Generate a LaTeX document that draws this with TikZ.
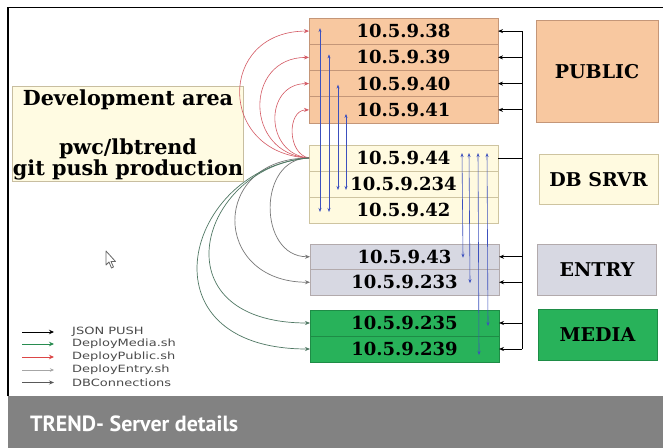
\documentclass[tikz,border=0pt]{standalone}
\usepackage{fontspec}
\setmainfont{DejaVu Serif}
\newfontfamily\legendfont{DejaVu Sans}
\newfontfamily\titlefont{PT Sans}
\usetikzlibrary{arrows.meta}
\definecolor{pubfill}{RGB}{248,200,160}
\definecolor{pubdraw}{RGB}{196,150,120}
\definecolor{dbfill}{RGB}{255,250,224}
\definecolor{dbdraw}{RGB}{206,196,160}
\definecolor{entfill}{RGB}{215,216,226}
\definecolor{entdraw}{RGB}{178,170,172}
\definecolor{medfill}{RGB}{40,178,90}
\definecolor{meddraw}{RGB}{30,140,70}
\definecolor{devfill}{RGB}{255,251,226}
\definecolor{devdraw}{RGB}{200,190,160}
\definecolor{redc}{RGB}{212,90,100}
\definecolor{bluec}{RGB}{60,80,190}
\definecolor{entc}{RGB}{120,120,120}
\definecolor{medc}{RGB}{80,120,100}
\definecolor{band}{RGB}{130,130,130}
\definecolor{legtext}{RGB}{75,75,75}
\tikzset{
  ipbox/.style={draw=#1, line width=0.8bp, minimum width=189bp, inner sep=0pt, outer sep=0pt,
    font=\fontsize{18bp}{20bp}\selectfont\bfseries},
  grpbox/.style={draw=#1, line width=1bp, inner sep=0pt, outer sep=0pt,
    font=\fontsize{19bp}{21bp}\selectfont\bfseries},
  pubarrow/.style={draw=redc, line width=0.6bp, -{Stealth[length=5bp,width=4bp]}},
  entarrow/.style={draw=entc, line width=0.7bp, -{Stealth[length=5bp,width=4bp]}},
  medarrow/.style={draw=medc, line width=0.7bp, -{Stealth[length=5bp,width=4bp]}},
  dbarrow/.style={draw=bluec, line width=0.6bp, {Stealth[length=4bp,width=3bp]}-{Stealth[length=4bp,width=3bp]}},
  jsonarrow/.style={draw=black, line width=0.8bp, -{Stealth[length=5bp,width=4bp]}},
  legtxt/.style={anchor=west, inner sep=0pt, text=legtext, font=\legendfont\fontsize{10bp}{11bp}\selectfont},
}
\begin{document}
\begin{tikzpicture}[x=1bp,y=-1bp]
\useasboundingbox (0,0) rectangle (663,448);
\fill[white] (0,0) rectangle (663,448);
% frame and band
\draw[black,line width=1.2bp] (8,396) -- (8,7.5) -- (663,7.5);
\fill[band] (8,396) rectangle (663,448);
\node[anchor=west, text=white, inner sep=0pt, font=\titlefont\bfseries\fontsize{22bp}{24bp}\selectfont] (title) at (30,424) {TREND- Server details};

% development area
\node[draw=devdraw, fill=devfill, line width=1bp, minimum width=230bp, minimum height=95bp, inner sep=0pt,
  align=center, font=\fontsize{20.7bp}{20bp}\selectfont\bfseries] (dev) at (128,134.5)
  {Development area\\[28bp]pwc/lbtrend\\git push production};

% public boxes
\node[ipbox=pubdraw, fill=pubfill, minimum height=26.25bp] (p38) at (403.5,31.1) {10.5.9.38};
\node[ipbox=pubdraw, fill=pubfill, minimum height=26.25bp] (p39) at (403.5,57.4) {10.5.9.39};
\node[ipbox=pubdraw, fill=pubfill, minimum height=26.25bp] (p40) at (403.5,83.6) {10.5.9.40};
\node[ipbox=pubdraw, fill=pubfill, minimum height=26.25bp] (p41) at (403.5,109.9) {10.5.9.41};
% db boxes
\node[ipbox=dbdraw, fill=dbfill, minimum height=26bp] (d44) at (403.5,158) {10.5.9.44};
\node[ipbox=dbdraw, fill=dbfill, minimum height=26bp] (d234) at (403.5,184) {10.5.9.234};
\node[ipbox=dbdraw, fill=dbfill, minimum height=26bp] (d42) at (403.5,210) {10.5.9.42};
% entry boxes
\node[ipbox=entdraw, fill=entfill, minimum height=25.5bp] (e43) at (404.5,256.75) {10.5.9.43};
\node[ipbox=entdraw, fill=entfill, minimum height=25.5bp] (e233) at (404.5,282.25) {10.5.9.233};
% media boxes
\node[ipbox=meddraw, fill=medfill, minimum height=26bp] (m235) at (404.5,323) {10.5.9.235};
\node[ipbox=meddraw, fill=medfill, minimum height=26bp] (m239) at (404.5,349) {10.5.9.239};

% group labels
\node[grpbox=pubdraw, fill=pubfill, minimum width=122bp, minimum height=102bp] (lpub) at (597,71.5) {PUBLIC};
\node[grpbox=dbdraw, fill=dbfill, minimum width=119bp, minimum height=50bp] (ldb) at (598.5,180) {DB SRVR};
\node[grpbox=entdraw, fill=entfill, minimum width=119bp, minimum height=50bp] (lent) at (597,270) {ENTRY};
\node[grpbox=meddraw, fill=medfill, minimum width=119bp, minimum height=50bp] (lmed) at (597.5,335) {MEDIA};

% JSON push bus
\coordinate (bustop) at (522,31.1);
\coordinate (busbot) at (522,349);
\draw[black, line width=0.9bp] (bustop) -- (busbot);
\draw[black, line width=0.9bp] (d44.east) -- (d44.east -| bustop);
\foreach \n in {p38,p39,p40,p41,e43,e233,m235,m239}{
  \draw[jsonarrow] (\n.east -| bustop) -- (\n.east);
}

% deploy public (red)
\draw[pubarrow] (d44.west) .. controls +(-92,-4) and +(-92,0) .. (p38.west);
\draw[pubarrow] (d44.west) .. controls +(-65,-4) and +(-65,0) .. (p39.west);
\draw[pubarrow] (d44.west) .. controls +(-45,-4) and +(-45,0) .. (p40.west);
\draw[pubarrow] (d44.west) .. controls +(-22,-4) and +(-22,0) .. (p41.west);
% deploy entry (gray)
\draw[entarrow] (d44.west) .. controls +(-52,0) and +(-52,0) .. (e43.west);
\draw[entarrow] (d44.west) .. controls +(-99,0) and +(-99,0) .. (e233.west);
% deploy media (gray-green)
\draw[medarrow] (d44.west) .. controls +(-110,8) and +(-155,0) .. (m235.west);
\draw[medarrow] (d44.west) .. controls +(-125,10) and +(-172,0) .. (m239.west);

% DB connections (blue)
\draw[dbarrow] ([xshift=11bp,yshift=3bp]p38.west) -- ([xshift=11bp,yshift=-2bp]d42.west);
\draw[dbarrow] ([xshift=20bp,yshift=3bp]p39.west) -- ([xshift=20bp,yshift=-2bp]d42.west);
\draw[dbarrow] ([xshift=29bp,yshift=-1bp]p40.west) -- ([xshift=29bp,yshift=-6bp]d234.west);
\draw[dbarrow] ([xshift=37bp,yshift=-4bp]p41.west) -- ([xshift=37bp,yshift=-6bp]d234.west);
\draw[dbarrow] ([xshift=-36bp,yshift=5bp]d44.east) -- ([xshift=-36bp,yshift=-1bp]e43.east);
\draw[dbarrow] ([xshift=-29bp,yshift=5bp]d44.east) -- ([xshift=-29bp,yshift=-1bp]e233.east);
\draw[dbarrow] ([xshift=-20bp,yshift=5bp]d44.east) -- ([xshift=-20bp,yshift=-6bp]m239.east);
\draw[dbarrow] ([xshift=-11bp,yshift=5bp]d44.east) -- ([xshift=-11bp,yshift=-3bp]m235.east);

% mouse pointer
\draw[draw=black!60, fill=white, line width=0.8bp, line join=round]
  (106,251) -- (106,265) -- (109,262) -- (111.5,268) -- (113.5,267) -- (111,261.5) -- (115.5,261.5) -- cycle;

% legend
\coordinate (ja) at (22,332);   \coordinate (jb) at (54,332);
\coordinate (ma) at (22,344);   \coordinate (mb) at (54,344);
\coordinate (ra) at (22,357);   \coordinate (rb) at (54,357);
\coordinate (ea) at (22,370);   \coordinate (eb) at (54,370);
\coordinate (ca) at (22,382.5); \coordinate (cb) at (54,382.5);
\draw[black, line width=1bp, -{Stealth[length=5bp,width=4.5bp]}] (ja) -- (jb);
\draw[draw={rgb,255:red,40;green,140;blue,80}, line width=1bp, -{Stealth[length=5bp,width=4.5bp]}] (ma) -- (mb);
\draw[draw={rgb,255:red,220;green,70;blue,70}, line width=1bp, -{Stealth[length=5bp,width=4.5bp]}] (ra) -- (rb);
\draw[draw=black!35, line width=0.6bp, -{Stealth[length=4bp,width=3.5bp]}] (ea) -- (eb);
\draw[draw=black!65, line width=0.7bp, -{Stealth[length=5bp,width=4bp]}] (ca) -- (cb);
\node[legtxt] (lj) at (72,332) {\scalebox{1.3}[1]{JSON PUSH}};
\node[legtxt] (lm) at (72,344) {\scalebox{1.3}[1]{DeployMedia.sh}};
\node[legtxt] (lr) at (72,357) {\scalebox{1.3}[1]{DeployPublic.sh}};
\node[legtxt] (le) at (72,370) {\scalebox{1.3}[1]{DeployEntry.sh}};
\node[legtxt] (lc) at (72,382.5) {\scalebox{1.3}[1]{DBConnections}};
\end{tikzpicture}
\end{document}
